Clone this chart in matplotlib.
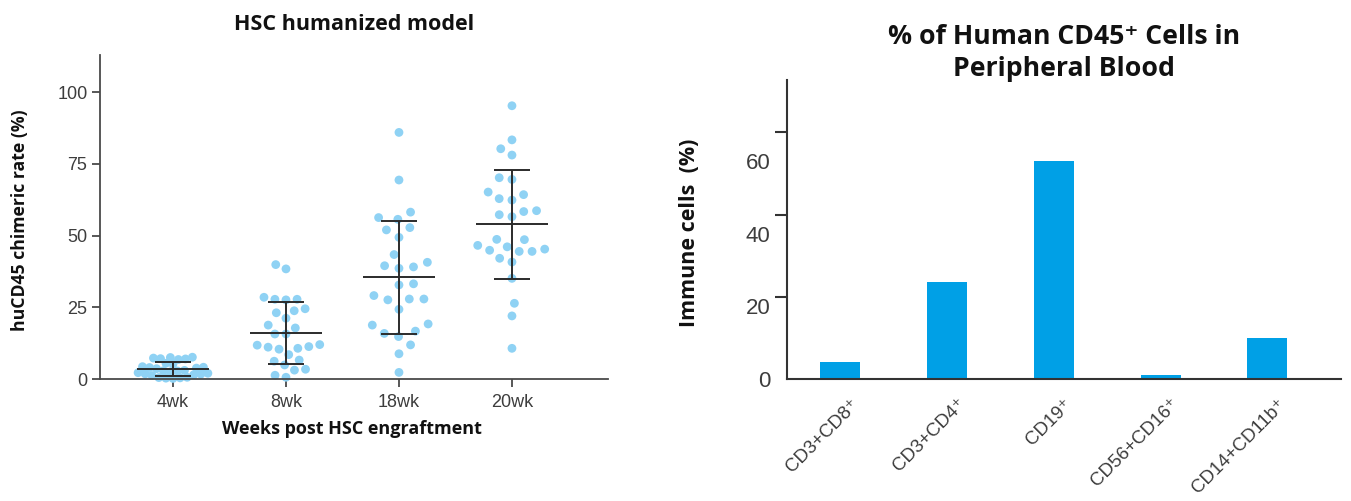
import numpy as np
import matplotlib
matplotlib.use("Agg")
import matplotlib.pyplot as plt
from matplotlib.ticker import MultipleLocator, FixedLocator, NullFormatter
from matplotlib.transforms import ScaledTranslation

# ---------------- data ----------------
weeks = ["4wk", "8wk", "18wk", "20wk"]

chimerism_4wk = [7.6, 7.5, 7.3, 7.1, 7.0, 6.8, 5.5, 5.2, 4.3, 4.1, 4.0, 3.8, 3.6,
                 3.0, 2.9, 2.8, 2.5, 2.2, 2.0, 1.8, 1.7, 1.5, 1.2, 0.6, 0.5, 0.4,
                 0.3, 0.2]
chimerism_8wk = [39.9, 38.4, 28.5, 27.8, 27.8, 27.6, 24.5, 23.8, 23.1, 21.2, 18.8,
                 17.8, 15.7, 15.7, 12.0, 11.8, 11.3, 11.1, 10.7, 10.4, 8.5, 6.6,
                 6.2, 4.9, 3.4, 3.1, 1.3, 0.6]
chimerism_18wk = [86.0, 69.4, 58.2, 56.3, 55.7, 52.8, 52.0, 49.4, 43.4, 40.7, 39.5,
                  39.1, 38.6, 33.2, 32.8, 29.1, 27.9, 27.9, 27.6, 24.3, 19.2, 18.8,
                  16.7, 15.9, 14.8, 11.9, 8.8, 2.3]
chimerism_20wk = [95.3, 83.4, 80.3, 78.1, 70.2, 69.6, 65.2, 64.3, 62.9, 62.4, 58.7,
                  58.4, 57.3, 56.6, 48.7, 48.6, 46.6, 46.1, 45.3, 44.9, 44.5, 44.5,
                  42.1, 40.8, 35.1, 26.4, 22.0, 10.7]
groups = [chimerism_4wk, chimerism_8wk, chimerism_18wk, chimerism_20wk]

cell_types = ["CD3+CD8\u207a", "CD3+CD4\u207a", "CD19\u207a", "CD56+CD16\u207a",
              "CD14+CD11b\u207a"]
cell_pct = [4.8, 26.8, 60.0, 1.2, 11.2]

left_yticks = [0, 25, 50, 75, 100]
right_ylabels = [0, 20, 40, 60]

# ---------------- style ----------------
DOT = "#8FD2F4"
BAR = "#00A0E6"
AX = "#4a4a4a"
TICKC = "#3d3d3d"
BOLD = ["Open Sans", "DejaVu Sans"]
NARROW = ["Liberation Sans Narrow", "Liberation Sans", "DejaVu Sans"]

W, H = 1351, 501
fig = plt.figure(figsize=(W / 100, H / 100), dpi=100)
fig.patch.set_facecolor("white")


def frac(l, r, t, b):
    return [l / W, 1 - b / H, (r - l) / W, (b - t) / H]


# ---------------- left: scatter with mean +/- SD ----------------
ax1 = fig.add_axes(frac(100, 608, 55, 379))
ax1.set_xlim(-0.646, 3.85)
ax1.set_ylim(0, 113)
for s in ("top", "right"):
    ax1.spines[s].set_visible(False)
for s in ("left", "bottom"):
    ax1.spines[s].set_color(AX)
    ax1.spines[s].set_linewidth(1.3)


def swarm(ypx, d):
    """Beeswarm offsets (pixels) for points at vertical pixel positions ypx."""
    xs = np.zeros(len(ypx))
    placed = []
    for k, i in enumerate(np.argsort(ypx)):
        y = ypx[i]
        cands = [0.0]
        for px, py in placed:
            dy = y - py
            if abs(dy) < d:
                dx = np.sqrt(d * d - dy * dy)
                cands += [px + dx, px - dx]
        sgn = 1 if k % 2 else -1
        cands.sort(key=lambda c: (round(abs(c), 3), sgn * c))
        for c in cands:
            if all((c - px) ** 2 + (y - py) ** 2 >= d * d - 1e-6 for px, py in placed):
                xs[i] = c
                break
        placed.append((xs[i], y))
    return xs


def fitted_swarm(ypx, d, half_width):
    # shrink the spacing until the swarm fits inside the column
    off = swarm(ypx, d)
    while np.abs(off).max() > half_width and d > 4:
        d -= 0.25
        off = swarm(ypx, d)
    return off


fig.canvas.draw()
for gi, vals in enumerate(groups):
    vals = np.asarray(vals, dtype=float)
    pts = ax1.transData.transform(np.column_stack([np.full(len(vals), gi), vals]))
    off = fitted_swarm(pts[:, 1], 14.6, 35.0)
    xy = ax1.transData.inverted().transform(np.column_stack([pts[:, 0] + off, pts[:, 1]]))
    ax1.scatter(xy[:, 0], vals, s=40, color=DOT, edgecolors="none", zorder=2, clip_on=False)

    m = vals.mean()
    sd = vals.std(ddof=1)
    ax1.hlines(m, gi - 0.32, gi + 0.32, color="#2b2b2b", lw=1.4, zorder=3)
    ax1.vlines(gi, m - sd, m + sd, color="#2b2b2b", lw=1.4, zorder=3)
    ax1.hlines([m - sd, m + sd], gi - 0.16, gi + 0.16, color="#2b2b2b", lw=1.4, zorder=3)

ax1.set_xticks(range(len(weeks)))
ax1.set_xticklabels(weeks)
ax1.set_yticks(left_yticks)
ax1.tick_params(axis="both", colors=AX, width=1.3, length=6, labelcolor=TICKC,
                labelsize=13)
for lab in ax1.get_xticklabels() + ax1.get_yticklabels():
    lab.set_family(NARROW)
ax1.tick_params(axis="x", pad=5)
ax1.tick_params(axis="y", pad=3)

ax1.set_title("HSC humanized model", family=BOLD, fontweight="bold", fontsize=15.5,
              color="#111111", y=1.05)
ax1.set_xlabel("Weeks post HSC engraftment", family=BOLD, fontweight="bold",
               fontsize=13, color="#111111")
ax1.xaxis.set_label_coords(0.496, -0.125)
ax1.set_ylabel("huCD45 chimeric rate (%)", family=BOLD, fontweight="bold",
               fontsize=12.7, color="#111111")
ax1.yaxis.set_label_coords(-0.14, 0.49)

# ---------------- right: bar chart ----------------
ax2 = fig.add_axes(frac(787, 1341, 80, 379))
ax2.set_xlim(-0.5, 4.69)
ax2.set_ylim(0, 82.2)
for s in ("top", "right"):
    ax2.spines[s].set_visible(False)
for s in ("left", "bottom"):
    ax2.spines[s].set_color("#333333")
    ax2.spines[s].set_linewidth(1.5)

x = np.arange(len(cell_types))
ax2.bar(x, cell_pct, width=0.375, color=BAR, zorder=2)

ax2.set_xticks(x)
ax2.set_xticklabels(cell_types, rotation=45, ha="right", rotation_mode="anchor",
                    family=NARROW, fontsize=13.5, color=TICKC)
ax2.tick_params(axis="x", length=0, pad=12)
shift = ScaledTranslation(10 / 100, 0, fig.dpi_scale_trans)
for lab in ax2.get_xticklabels():
    lab.set_transform(lab.get_transform() + shift)

# tick labels on the 20-step scale, tick marks on their own spacing
ax2.yaxis.set_major_locator(FixedLocator(right_ylabels))
ax2.yaxis.set_minor_locator(MultipleLocator(22.6))
ax2.yaxis.set_minor_formatter(NullFormatter())
ax2.tick_params(axis="y", which="major", length=0, pad=12, labelsize=16,
                labelcolor=TICKC)
ax2.tick_params(axis="y", which="minor", length=9, width=1.5, color="#333333")
for lab in ax2.get_yticklabels():
    lab.set_family(NARROW)

ax2.set_title("% of Human CD45\u207a Cells in\nPeripheral Blood", family=BOLD,
              fontweight="bold", fontsize=19.2, color="#111111", y=0.985,
              linespacing=1.33)
ax2.set_ylabel("Immune cells  (%)", family=BOLD, fontweight="bold", fontsize=15.5,
               color="#111111")
ax2.yaxis.set_label_coords(-0.157, 0.49)

fig.savefig("out.png", dpi=100, facecolor="white")
